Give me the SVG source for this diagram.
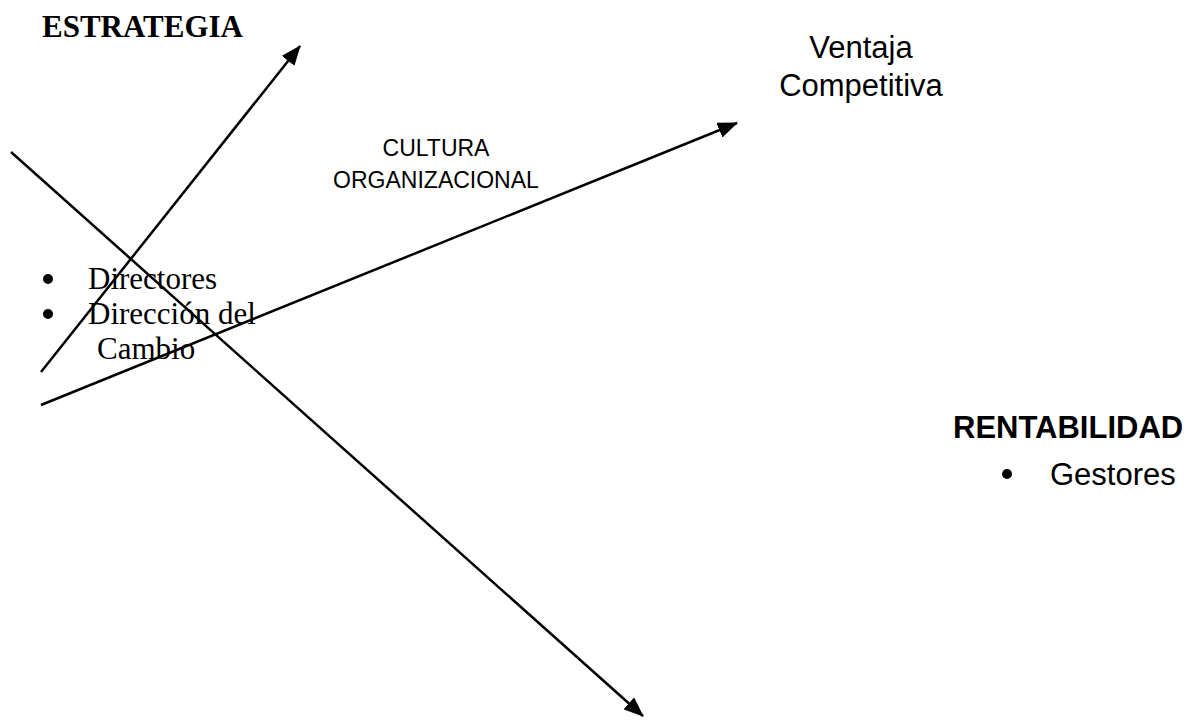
<svg xmlns="http://www.w3.org/2000/svg" width="1193" height="726" viewBox="0 0 1193 726">
<style>
.serif{font-family:"Liberation Serif","Times New Roman",serif;font-size:31px;fill:#000}
.sans{font-family:"Liberation Sans",Arial,sans-serif;fill:#000}
.ln{stroke:#000;stroke-width:2.5;fill:none;marker-end:url(#ah)}
.dot{fill:#000}
</style>
<defs>
<marker id="ah" markerUnits="userSpaceOnUse" markerWidth="21" markerHeight="16" refX="19" refY="8" orient="auto">
<path d="M0,0 L20,8 L0,16 z" fill="#000"/>
</marker>
</defs>
<rect width="1193" height="726" fill="#fff"/>
<g id="connectors">
<line class="ln" x1="41" y1="372" x2="300" y2="46"/>
<line class="ln" x1="41" y1="405" x2="737" y2="123"/>
<line class="ln" x1="11" y1="152" x2="643" y2="716"/>
</g>
<g id="estrategia">
<text class="serif" x="42" y="37" font-weight="bold">ESTRATEGIA</text>
</g>
<g id="directores">
<circle class="dot" cx="48" cy="279" r="5"/>
<text class="serif" x="88" y="289">Directores</text>
<circle class="dot" cx="48" cy="314" r="5"/>
<text class="serif" x="88" y="324">Dirección del</text>
<text class="serif" x="97" y="359">Cambio</text>
</g>
<g id="cultura">
<text class="sans" font-size="23" text-anchor="middle" x="436" y="156">CULTURA</text>
<text class="sans" font-size="23" text-anchor="middle" x="436" y="188">ORGANIZACIONAL</text>
</g>
<g id="ventaja">
<text class="sans" font-size="31" text-anchor="middle" x="861" y="58">Ventaja</text>
<text class="sans" font-size="31" text-anchor="middle" x="861" y="96">Competitiva</text>
</g>
<g id="rentabilidad">
<text class="sans" font-size="31" font-weight="bold" x="953" y="438">RENTABILIDAD</text>
<circle class="dot" cx="1007" cy="474" r="5"/>
<text class="sans" font-size="31" x="1050" y="485">Gestores</text>
</g>
</svg>
